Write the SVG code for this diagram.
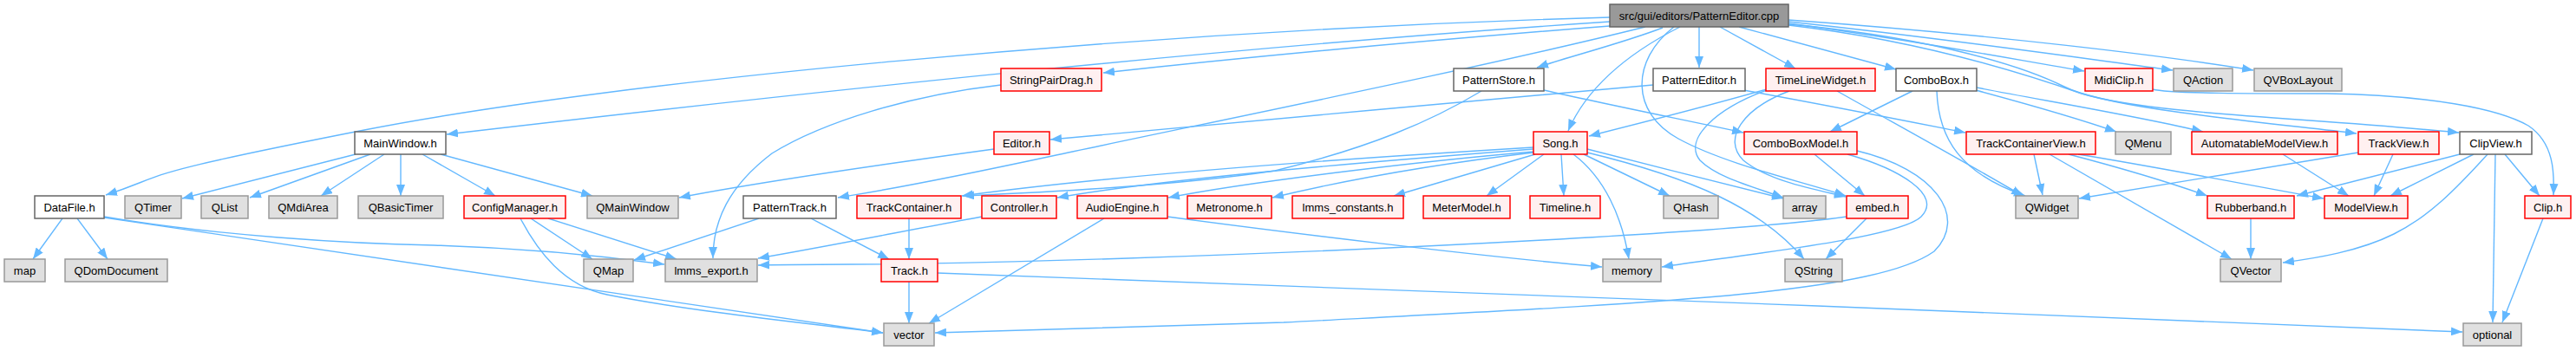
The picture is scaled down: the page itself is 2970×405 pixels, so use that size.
<svg xmlns="http://www.w3.org/2000/svg" width="2970" height="405" viewBox="0 0 2970 405">
<defs>
<style>
.n rect{stroke-width:1.5}
.n text{font-family:"Liberation Sans",Arial,sans-serif;font-size:13px;fill:#000;text-anchor:middle}
.red rect{fill:#fff0f0;stroke:#ff0000}
.gray rect{fill:#e0e0e0;stroke:#999999}
.white rect{fill:#ffffff;stroke:#666666}
.root rect{fill:#999999;stroke:#666666}
#edges path{fill:none;stroke:#63b8ff;stroke-width:1.4;marker-end:url(#ah)}
</style>
<marker id="ah" viewBox="0 0 13 10" refX="13" refY="5" markerWidth="13" markerHeight="10" markerUnits="userSpaceOnUse" orient="auto">
<path d="M0,0 L13,5 L0,10 z" fill="#63b8ff"/>
</marker>
</defs>
<rect width="2970" height="405" fill="#ffffff"/>
<g id="edges">
<path d="M1856,20 C1300,36 700,95 420,150 S200,200 122,225"/>
<path d="M1856,25 C1400,55 900,110 515,155"/>
<path d="M1856,30 C1600,50 1400,70 1272,84"/>
<path d="M1897,31 C1700,80 1400,140 1213,180 S1000,222 966,228"/>
<path d="M1917,32 C1870,50 1810,65 1772,78"/>
<path d="M1937,31 C1880,60 1830,100 1808,151"/>
<path d="M1930,31 C1880,70 1880,130 1935,160 C1990,190 2080,210 2128,226"/>
<path d="M1959,31 L1959,78"/>
<path d="M1983,31 L2070,79"/>
<path d="M2005,31 L2186,80"/>
<path d="M2062,27 C2200,45 2330,70 2403,82"/>
<path d="M2062,25 C2250,45 2420,70 2505,81"/>
<path d="M2062,23 C2300,40 2500,65 2598,81"/>
<path d="M2062,28 C2200,40 2320,70 2380,100 C2430,125 2600,140 2717,154"/>
<path d="M2062,29 C2200,45 2320,80 2400,108 C2480,132 2650,135 2835,153"/>
<path d="M1906,98 C1700,115 1400,145 1211,161"/>
<path d="M2010,104 C2100,120 2200,140 2266,153"/>
<path d="M1708,105 C1650,140 1580,170 1470,197 C1350,215 1200,222 1110,226"/>
<path d="M1780,104 C1850,120 1950,140 2010,153"/>
<path d="M2037,103 C1970,122 1880,145 1832,157"/>
<path d="M2063,105 C2010,125 1985,160 2010,185 C2040,210 2100,220 2128,227"/>
<path d="M2037,104 C1980,125 1940,160 1960,185 C1980,205 2020,215 2056,228"/>
<path d="M2118,105 C2180,140 2280,195 2332,226"/>
<path d="M2205,105 L2110,152"/>
<path d="M2233,105 C2235,160 2260,200 2335,226"/>
<path d="M2278,104 C2330,118 2400,138 2440,152"/>
<path d="M2279,101 C2350,115 2470,135 2540,152"/>
<path d="M2092,178 L2150,226"/>
<path d="M2130,178 C2190,195 2240,225 2215,250 C2190,275 2000,295 1916,308"/>
<path d="M2141,174 C2230,195 2270,250 2230,290 C2160,340 1900,350 1480,372 C1300,378 1150,382 1078,384"/>
<path d="M2152,252 L2105,299"/>
<path d="M2129,250 C2000,268 1600,288 1300,298 S950,304 874,306"/>
<path d="M1768,170 C1600,180 1300,200 1109,226"/>
<path d="M1768,172 C1600,185 1350,205 1219,228"/>
<path d="M1768,175 C1650,185 1450,208 1347,228"/>
<path d="M1768,176 C1650,190 1550,208 1467,228"/>
<path d="M1770,178 L1607,226"/>
<path d="M1780,178 L1714,226"/>
<path d="M1800,178 L1803,226"/>
<path d="M1826,178 L1925,226"/>
<path d="M1830,172 C1900,190 2000,215 2056,229"/>
<path d="M1830,176 C1950,205 2030,240 2080,299"/>
<path d="M1814,178 C1850,205 1870,250 1878,299"/>
<path d="M1273,252 L1071,373"/>
<path d="M1346,250 C1480,268 1700,295 1847,308"/>
<path d="M1132,250 C1050,265 950,285 874,298"/>
<path d="M1048,252 L1048,299"/>
<path d="M1048,325 L1048,373"/>
<path d="M1081,315 C1500,330 2300,360 2839,383"/>
<path d="M875,252 L731,300"/>
<path d="M935,252 L1025,299"/>
<path d="M1154,98 C1050,110 950,140 890,177 C840,215 822,255 822,298"/>
<path d="M1146,172 C1000,192 850,215 783,228"/>
<path d="M410,178 L210,229"/>
<path d="M427,178 L288,228"/>
<path d="M443,178 L370,226"/>
<path d="M462,178 L462,226"/>
<path d="M487,178 L571,226"/>
<path d="M508,178 L683,226"/>
<path d="M612,252 L683,299"/>
<path d="M632,252 L780,299"/>
<path d="M600,252 C620,290 650,330 700,340 C800,360 950,375 1018,384"/>
<path d="M72,252 L38,299"/>
<path d="M89,252 L124,299"/>
<path d="M120,250 C250,272 400,281 500,283 C600,286 700,296 766,305"/>
<path d="M120,251 C300,280 600,322 1018,384"/>
<path d="M2482,103 C2500,108 2600,108 2683,108 C2800,110 2880,125 2915,145 C2945,165 2945,200 2944,225"/>
<path d="M2345,178 L2355,225"/>
<path d="M2363,178 L2573,299"/>
<path d="M2385,178 C2450,195 2500,210 2545,226"/>
<path d="M2396,178 C2500,195 2600,215 2679,229"/>
<path d="M2719,176 L2397,229"/>
<path d="M2759,178 L2737,226"/>
<path d="M2632,178 L2708,226"/>
<path d="M2836,178 L2648,226"/>
<path d="M2852,178 L2756,226"/>
<path d="M2868,178 C2830,220 2800,250 2760,270 C2720,290 2670,298 2632,303"/>
<path d="M2877,178 L2874,372"/>
<path d="M2888,178 L2928,226"/>
<path d="M2932,252 L2885,372"/>
<path d="M2595,252 L2595,299"/>
</g>
<g id="node-root" class="n root"><rect x="1856" y="5" width="206" height="26"/><text x="1959" y="23">src/gui/editors/PatternEditor.cpp</text></g>
<g id="node-StringPairDrag" class="n red"><rect x="1154" y="79" width="116" height="26"/><text x="1212" y="97">StringPairDrag.h</text></g>
<g id="node-PatternStore" class="n white"><rect x="1676" y="79" width="104" height="26"/><text x="1728" y="97">PatternStore.h</text></g>
<g id="node-PatternEditor" class="n white"><rect x="1906" y="79" width="106" height="26"/><text x="1959" y="97">PatternEditor.h</text></g>
<g id="node-TimeLineWidget" class="n red"><rect x="2036" y="79" width="126" height="26"/><text x="2099" y="97">TimeLineWidget.h</text></g>
<g id="node-ComboBox" class="n white"><rect x="2186" y="79" width="93" height="26"/><text x="2232.5" y="97">ComboBox.h</text></g>
<g id="node-MidiClip" class="n red"><rect x="2404" y="79" width="78" height="26"/><text x="2443" y="97">MidiClip.h</text></g>
<g id="node-QAction" class="n gray"><rect x="2506" y="79" width="68" height="26"/><text x="2540" y="97">QAction</text></g>
<g id="node-QVBoxLayout" class="n gray"><rect x="2599" y="79" width="101" height="26"/><text x="2649.5" y="97">QVBoxLayout</text></g>
<g id="node-MainWindow" class="n white"><rect x="409" y="152" width="105" height="26"/><text x="461.5" y="170">MainWindow.h</text></g>
<g id="node-Editor" class="n red"><rect x="1146" y="152" width="64" height="26"/><text x="1178" y="170">Editor.h</text></g>
<g id="node-Song" class="n red"><rect x="1768" y="152" width="62" height="26"/><text x="1799" y="170">Song.h</text></g>
<g id="node-ComboBoxModel" class="n red"><rect x="2011" y="152" width="130" height="26"/><text x="2076" y="170">ComboBoxModel.h</text></g>
<g id="node-TrackContainerView" class="n red"><rect x="2267" y="152" width="149" height="26"/><text x="2341.5" y="170">TrackContainerView.h</text></g>
<g id="node-QMenu" class="n gray"><rect x="2439" y="152" width="64" height="26"/><text x="2471" y="170">QMenu</text></g>
<g id="node-AutomatableModelView" class="n red"><rect x="2527" y="152" width="168" height="26"/><text x="2611" y="170">AutomatableModelView.h</text></g>
<g id="node-TrackView" class="n red"><rect x="2719" y="152" width="93" height="26"/><text x="2765.5" y="170">TrackView.h</text></g>
<g id="node-ClipView" class="n white"><rect x="2836" y="152" width="83" height="26"/><text x="2877.5" y="170">ClipView.h</text></g>
<g id="node-DataFile" class="n white"><rect x="40" y="226" width="80" height="26"/><text x="80" y="244">DataFile.h</text></g>
<g id="node-QTimer" class="n gray"><rect x="144" y="226" width="65" height="26"/><text x="176.5" y="244">QTimer</text></g>
<g id="node-QList" class="n gray"><rect x="232" y="226" width="54" height="26"/><text x="259" y="244">QList</text></g>
<g id="node-QMdiArea" class="n gray"><rect x="310" y="226" width="79" height="26"/><text x="349.5" y="244">QMdiArea</text></g>
<g id="node-QBasicTimer" class="n gray"><rect x="413" y="226" width="98" height="26"/><text x="462" y="244">QBasicTimer</text></g>
<g id="node-ConfigManager" class="n red"><rect x="535" y="226" width="117" height="26"/><text x="593.5" y="244">ConfigManager.h</text></g>
<g id="node-QMainWindow" class="n gray"><rect x="677" y="226" width="105" height="26"/><text x="729.5" y="244">QMainWindow</text></g>
<g id="node-PatternTrack" class="n white"><rect x="857" y="226" width="107" height="26"/><text x="910.5" y="244">PatternTrack.h</text></g>
<g id="node-TrackContainer" class="n red"><rect x="988" y="226" width="120" height="26"/><text x="1048" y="244">TrackContainer.h</text></g>
<g id="node-Controller" class="n red"><rect x="1132" y="226" width="86" height="26"/><text x="1175" y="244">Controller.h</text></g>
<g id="node-AudioEngine" class="n red"><rect x="1242" y="226" width="104" height="26"/><text x="1294" y="244">AudioEngine.h</text></g>
<g id="node-Metronome" class="n red"><rect x="1369" y="226" width="97" height="26"/><text x="1417.5" y="244">Metronome.h</text></g>
<g id="node-lmms_constants" class="n red"><rect x="1490" y="226" width="128" height="26"/><text x="1554" y="244">lmms_constants.h</text></g>
<g id="node-MeterModel" class="n red"><rect x="1641" y="226" width="100" height="26"/><text x="1691" y="244">MeterModel.h</text></g>
<g id="node-Timeline" class="n red"><rect x="1764" y="226" width="81" height="26"/><text x="1804.5" y="244">Timeline.h</text></g>
<g id="node-QHash" class="n gray"><rect x="1918" y="226" width="63" height="26"/><text x="1949.5" y="244">QHash</text></g>
<g id="node-array" class="n gray"><rect x="2056" y="226" width="49" height="26"/><text x="2080.5" y="244">array</text></g>
<g id="node-embed" class="n red"><rect x="2129" y="226" width="71" height="26"/><text x="2164.5" y="244">embed.h</text></g>
<g id="node-QWidget" class="n gray"><rect x="2324" y="226" width="72" height="26"/><text x="2360" y="244">QWidget</text></g>
<g id="node-Rubberband" class="n red"><rect x="2545" y="226" width="100" height="26"/><text x="2595" y="244">Rubberband.h</text></g>
<g id="node-ModelView" class="n red"><rect x="2680" y="226" width="96" height="26"/><text x="2728" y="244">ModelView.h</text></g>
<g id="node-Clip" class="n red"><rect x="2911" y="226" width="53" height="26"/><text x="2937.5" y="244">Clip.h</text></g>
<g id="node-map" class="n gray"><rect x="5" y="299" width="47" height="26"/><text x="28.5" y="317">map</text></g>
<g id="node-QDomDocument" class="n gray"><rect x="75" y="299" width="118" height="26"/><text x="134" y="317">QDomDocument</text></g>
<g id="node-QMap" class="n gray"><rect x="673" y="299" width="57" height="26"/><text x="701.5" y="317">QMap</text></g>
<g id="node-lmms_export" class="n gray"><rect x="767" y="299" width="106" height="26"/><text x="820" y="317">lmms_export.h</text></g>
<g id="node-Track" class="n red"><rect x="1016" y="299" width="65" height="26"/><text x="1048.5" y="317">Track.h</text></g>
<g id="node-memory" class="n gray"><rect x="1848" y="299" width="67" height="26"/><text x="1881.5" y="317">memory</text></g>
<g id="node-QString" class="n gray"><rect x="2058" y="299" width="66" height="26"/><text x="2091" y="317">QString</text></g>
<g id="node-QVector" class="n gray"><rect x="2560" y="299" width="70" height="26"/><text x="2595" y="317">QVector</text></g>
<g id="node-vector" class="n gray"><rect x="1019" y="373" width="58" height="26"/><text x="1048" y="391">vector</text></g>
<g id="node-optional" class="n gray"><rect x="2840" y="373" width="67" height="26"/><text x="2873.5" y="391">optional</text></g>
</svg>
